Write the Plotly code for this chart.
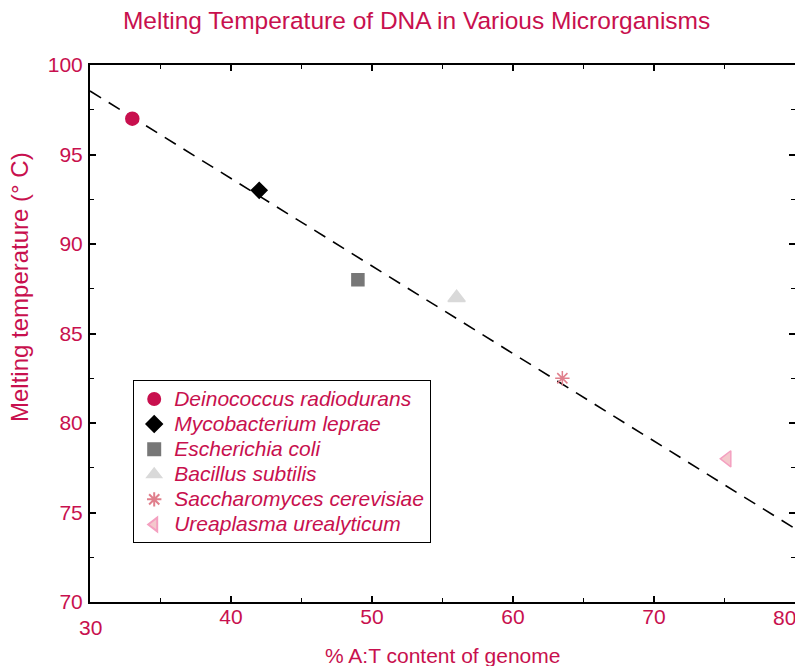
import plotly.graph_objects as go

species = ["Deinococcus radiodurans", "Mycobacterium leprae", "Escherichia coli",
           "Bacillus subtilis", "Saccharomyces cerevisiae", "Ureaplasma urealyticum"]
at_content = [33, 42, 49, 56, 63.5, 75.2]
melt_temp = [97, 93, 88, 87, 82.5, 78]
symbols = ["circle", "diamond", "square", "triangle-up", "asterisk-open", "triangle-left"]
fill_colors = ["#C8104E", "#000000", "#777777", "#D9D9D9", "#E07F8C", "#F4C8CC"]
line_colors = ["#C8104E", "#000000", "#777777", "#D9D9D9", "#E07F8C", "#F4A0C0"]
sizes = [13, 12, 12, 15, 12, 14]

fit_x = [30, 80]
fit_y = [98.55, 74.1]

x_tickvals = [30, 40, 50, 60, 70, 80]
y_tickvals = [70, 75, 80, 85, 90, 95, 100]

title_text = "Melting Temperature of DNA in Various Microrganisms"
x_title = "% A:T content of genome"
y_title = "Melting temperature (° C)"

crimson = "#C8104E"
font_family = "Liberation Sans, Arial, sans-serif"

fig = go.Figure()
fig.add_trace(go.Scatter(x=fit_x, y=fit_y, mode="lines",
                         line=dict(color="black", width=1.6, dash="13px,9px"),
                         showlegend=False, hoverinfo="skip"))
for i, name in enumerate(species):
    fig.add_trace(go.Scatter(
        x=[at_content[i]], y=[melt_temp[i]], mode="markers",
        name="<span style='font-size:21px'><i>" + name + "</i></span>",
        marker=dict(symbol=symbols[i], size=sizes[i], color=fill_colors[i],
                    line=dict(color=line_colors[i], width=1.5)),
    ))

axis_common = dict(showline=True, linecolor="black", linewidth=2, mirror="ticks",
                   ticks="inside", ticklen=6, tickcolor="black", tickwidth=1.5,
                   showgrid=False, zeroline=False, automargin=False)

# the figure sits 8px in from the page corner (body margin), so sizes are reduced by 8
fig.update_layout(
    width=795, height=658,
    plot_bgcolor="white", paper_bgcolor="white",
    margin=dict(l=82, r=8, t=57, b=64),
    title=dict(text=title_text, x=0.514, xanchor="center", y=0.981, yanchor="middle",
               automargin=False, font=dict(color=crimson, size=24.5, family=font_family)),
    xaxis=dict(range=[30, 80], tickvals=x_tickvals[1:-1],
               tickfont=dict(color=crimson, size=21, family=font_family),
               ticklabelstandoff=-5,
               minor=dict(ticks="inside", ticklen=4, tickcolor="black",
                          tickwidth=1.2, dtick=5, tick0=35),
               **axis_common),
    yaxis=dict(range=[70, 100], tickvals=y_tickvals,
               tickfont=dict(color=crimson, size=21, family=font_family),
               ticklabelstandoff=1,
               minor=dict(ticks="inside", ticklen=4, tickcolor="black",
                          tickwidth=1.2, dtick=2.5, tick0=72.5),
               **axis_common),
    legend=dict(x=0.061, y=0.413, xanchor="left", yanchor="top",
                bgcolor="white", bordercolor="black", borderwidth=1.2,
                font=dict(color=crimson, size=17, family=font_family),
                itemsizing="constant", tracegroupgap=0),
    showlegend=True,
)

# end x tick labels: the first sits lower, the last is pulled in from the edge
fig.add_annotation(x=x_tickvals[0], y=0, xref="x", yref="paper", text=str(x_tickvals[0]),
                   showarrow=False, xanchor="center", yanchor="middle", yshift=-25,
                   font=dict(color=crimson, size=21, family=font_family))
fig.add_annotation(x=x_tickvals[-1], y=0, xref="x", yref="paper", text=str(x_tickvals[-1]),
                   showarrow=False, xanchor="right", yanchor="middle", xshift=3, yshift=-15,
                   font=dict(color=crimson, size=21, family=font_family))
fig.add_annotation(x=0.5, y=-0.0987, xref="paper", yref="paper", text=x_title,
                   showarrow=False, xanchor="center", yanchor="middle",
                   font=dict(color=crimson, size=21, family=font_family))
fig.add_annotation(x=-0.0993, y=0.5866, xref="paper", yref="paper", text=y_title,
                   textangle=-90, showarrow=False, xanchor="center", yanchor="middle",
                   font=dict(color=crimson, size=24, family=font_family))

fig.write_html("out.html")
